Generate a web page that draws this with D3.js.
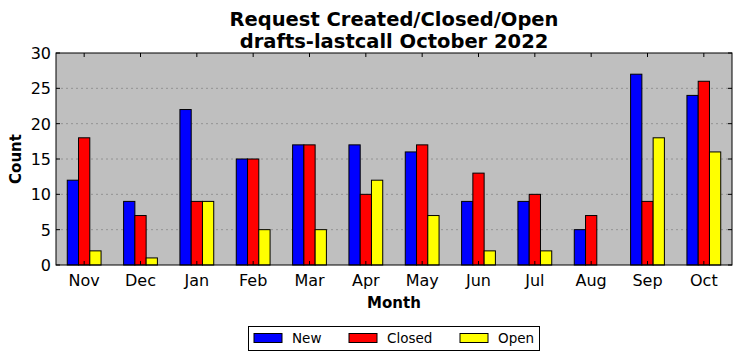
<!DOCTYPE html>
<html><head><meta charset="utf-8">
<script src="https://cdn.jsdelivr.net/npm/d3@7"></script>
<style>body{margin:0;background:#fff;} svg{display:block;font-family:"DejaVu Sans",sans-serif;}</style>
</head><body>
<svg id="c" width="742" height="361"></svg>
<script>
const months = ["Nov","Dec","Jan","Feb","Mar","Apr","May","Jun","Jul","Aug","Sep","Oct"];
const seriesNames = ["New","Closed","Open"];
const seriesColors = ["#0000ff","#ff0000","#ffff00"];
const newVals = [12,9,22,15,17,17,16,9,9,5,27,24];
const closedVals = [18,7,9,15,17,10,17,13,10,7,9,26];
const openVals = [2,1,9,5,5,12,7,2,2,0,18,16];
const yTicks = [0,5,10,15,20,25,30];
const titleLines = ["Request Created/Closed/Open","drafts-lastcall October 2022"];

const series = [newVals, closedVals, openVals];
const svg = d3.select("#c");
const L=56, R=732, T=53, B=265;
const x = d3.scaleBand().domain(months).range([L,R]).padding(0);
const y = d3.scaleLinear().domain([0,30]).range([B,T]);
const bw = x.bandwidth()*0.2;

svg.append("rect").attr("x",L).attr("y",T).attr("width",R-L).attr("height",B-T).attr("fill","#bfbfbf");
// grid
svg.append("g").selectAll("line").data(yTicks.filter(d=>d>0&&d<30)).join("line")
  .attr("x1",L).attr("x2",R).attr("y1",d=>y(d)).attr("y2",d=>y(d))
  .attr("stroke","#888").attr("stroke-width",0.8).attr("stroke-dasharray","2,3");
// bars
series.forEach((vals,si)=>{
  svg.append("g").selectAll("rect").data(vals).join("rect")
    .attr("x",(d,i)=>x(months[i])+x.bandwidth()/2 - 1.5*bw + si*bw)
    .attr("y",d=>y(d)).attr("width",bw).attr("height",d=>B-y(d))
    .attr("fill",seriesColors[si]).attr("stroke","#000").attr("stroke-width",1);
});
// frame
svg.append("rect").attr("x",L).attr("y",T).attr("width",R-L).attr("height",B-T).attr("fill","none").attr("stroke","#000").attr("stroke-width",1);
// ticks
const tk = svg.append("g").attr("stroke","#000").attr("stroke-width",1);
months.forEach(m=>{
  const cx = x(m)+x.bandwidth()/2;
  tk.append("line").attr("x1",cx).attr("x2",cx).attr("y1",B).attr("y2",B-4);
  tk.append("line").attr("x1",cx).attr("x2",cx).attr("y1",T).attr("y2",T+4);
});
yTicks.forEach(v=>{
  tk.append("line").attr("x1",L).attr("x2",L+4).attr("y1",y(v)).attr("y2",y(v));
  tk.append("line").attr("x1",R).attr("x2",R-4).attr("y1",y(v)).attr("y2",y(v));
});
// labels
svg.append("g").selectAll("text").data(months).join("text")
  .attr("x",d=>x(d)+x.bandwidth()/2).attr("y",B+21).attr("text-anchor","middle")
  .attr("font-size",16).text(d=>d);
svg.append("g").selectAll("text").data(yTicks).join("text")
  .attr("x",L-5).attr("y",d=>y(d)+6).attr("text-anchor","end")
  .attr("font-size",16).text(d=>d);
svg.append("text").attr("x",(L+R)/2).attr("y",308).attr("text-anchor","middle")
  .attr("font-size",15).attr("font-weight","bold").text("Month");
svg.append("text").attr("transform",`translate(21,${(T+B)/2}) rotate(-90)`).attr("text-anchor","middle")
  .attr("font-size",15).attr("font-weight","bold").text("Count");
titleLines.forEach((t,i)=>{
  svg.append("text").attr("x",(L+R)/2).attr("y",26+i*22).attr("text-anchor","middle")
    .attr("font-size",19.5).attr("font-weight","bold").text(t);
});
// legend
const lg = svg.append("g");
lg.append("rect").attr("x",248.5).attr("y",326.5).attr("width",291).attr("height",24).attr("fill","#fff").attr("stroke","#000");
const lx = [254,349,460];
seriesNames.forEach((n,i)=>{
  lg.append("rect").attr("x",lx[i]).attr("y",333.5).attr("width",28).attr("height",9)
    .attr("fill",seriesColors[i]).attr("stroke","#000");
  lg.append("text").attr("x",lx[i]+38).attr("y",343).attr("font-size",13.5).text(n);
});
</script>
</body></html>
